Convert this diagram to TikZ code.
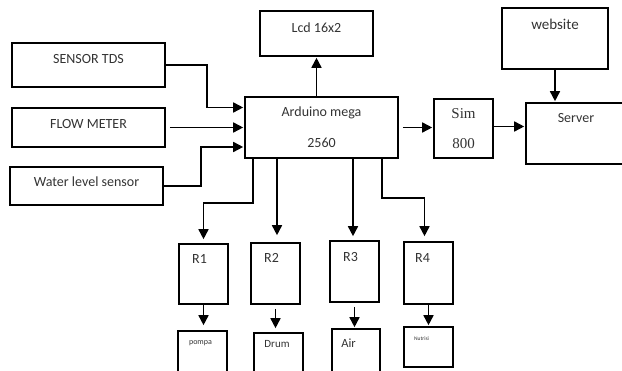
\documentclass[tikz,border=0pt]{standalone}
\usepackage{fontspec}
\setmainfont{Carlito}
\newfontfamily\simfont{Liberation Serif}
\usetikzlibrary{arrows.meta}
\tikzset{
  blk/.style={draw,line width=1.6pt,inner sep=0pt},
  lbl/.style={anchor=center,inner sep=0pt,text=black!80},
  arr/.style={line width=1.6pt,-{Triangle[length=10pt,width=10pt]},shorten >=1pt}
}
\begin{document}
\begin{tikzpicture}[x=1pt,y=-1pt,font=\fontsize{14}{16}\selectfont]
\useasboundingbox (0,0) rectangle (622,371);
\clip (0,0) rectangle (622,371);
\node[blk,minimum width=153,minimum height=44,label={[lbl,yshift=-17pt]north:SENSOR TDS}] (tds) at (88.5,65) {};
\node[blk,minimum width=153,minimum height=39,label={[lbl,yshift=-17pt]north:FLOW METER}] (flow) at (88.5,127.5) {};
\node[blk,minimum width=153,minimum height=38,label={[lbl,yshift=-15pt]north:Water level sensor}] (wls) at (86.5,186) {};
\node[blk,minimum width=153,minimum height=61,align=center,text=black!80] (ard) at (321.5,127.5) {Arduino mega\\[15pt]2560};
\node[blk,minimum width=113,minimum height=45,label={[lbl,yshift=-17pt]north:Lcd 16x2}] (lcd) at (316.5,33.5) {};
\node[blk,minimum width=59,minimum height=59,align=center,text=black!80,font=\fontsize{15}{18}\simfont] (sim) at (463.5,128.5) {Sim\\[12pt]800};
\node[blk,minimum width=106,minimum height=61,label={[lbl,yshift=-17pt,font=\fontsize{15}{17}\selectfont]north:website}] (web) at (555,38.5) {};
\node[blk,minimum width=100,minimum height=61,label={[lbl,yshift=-16pt]north:Server}] (server) at (576,133.5) {};
\node[blk,minimum width=49,minimum height=60,label={[lbl,xshift=-4pt,yshift=-16pt]north:R1}] (r1) at (203.5,274) {};
\node[blk,minimum width=49,minimum height=61,label={[lbl,xshift=-4pt,yshift=-16pt]north:R2}] (r2) at (275.5,273.5) {};
\node[blk,minimum width=49,minimum height=61,label={[lbl,xshift=-4pt,yshift=-17pt]north:R3}] (r3) at (354.5,271.5) {};
\node[blk,minimum width=49,minimum height=62,label={[lbl,xshift=-6pt,yshift=-17pt]north:R4}] (r4) at (428.5,273) {};
\node[blk,minimum width=49,minimum height=44,label={[lbl,xshift=-2pt,yshift=-13pt,font=\fontsize{8}{9}\selectfont]north:pompa}] (pom) at (202.5,353) {};
\node[blk,minimum width=49,minimum height=44,label={[lbl,xshift=-1.5pt,yshift=-12pt,font=\fontsize{11}{12}\selectfont]north:Drum}] (drum) at (278.5,355) {};
\node[blk,minimum width=48,minimum height=44,label={[lbl,xshift=-7.5pt,yshift=-15pt,font=\fontsize{12.5}{14}\selectfont]north:Air}] (air) at (356,351) {};
\node[blk,minimum width=49,minimum height=40,label={[lbl,xshift=-7pt,yshift=-12pt,font=\fontsize{5.5}{6}\selectfont]north:Nutrisi}] (nut) at (428.5,347) {};
\draw[arr] (tds.east) -- ++(41,0) |- ([yshift=20pt]ard.west);
\draw[arr,shorten <=4pt] (flow.east) -- (ard.west);
\draw[arr] (wls.east) -- ++(37,0) |- ([yshift=-19.5pt]ard.west);
\draw[arr] (lcd.south |- ard.north) -- (lcd.south);
\draw[arr,shorten <=4pt] (ard.east) -- (ard.east -| sim.west);
\draw[arr] ([yshift=2pt]sim.east) -- ([yshift=2pt]sim.east -| server.west);
\draw[arr] (web.south) -- (web.south |- server.north);
\draw[arr,shorten >=4pt] ([xshift=-68.5pt]ard.south) -- ++(0,44) -| (r1.north);
\draw[arr,shorten >=7pt] ([xshift=1.5pt]r2.north |- ard.south) -- ([xshift=1.5pt]r2.north);
\draw[arr,shorten >=4pt] ([xshift=-1.5pt]r3.north |- ard.south) -- ([xshift=-1.5pt]r3.north);
\draw[arr,shorten >=5pt] ([xshift=60.5pt]ard.south) -- ++(0,39) -| ([xshift=-4pt]r4.north);
\draw[arr,shorten >=5pt] (r1.south) -- (r1.south |- pom.north);
\draw[arr,shorten <=4pt,shorten >=4pt] (r2.south) -- (r2.south |- drum.north);
\draw[arr,shorten <=4pt] (r3.south) -- (r3.south |- air.north);
\draw[arr] (r4.south) -- (nut.north);
\end{tikzpicture}
\end{document}
